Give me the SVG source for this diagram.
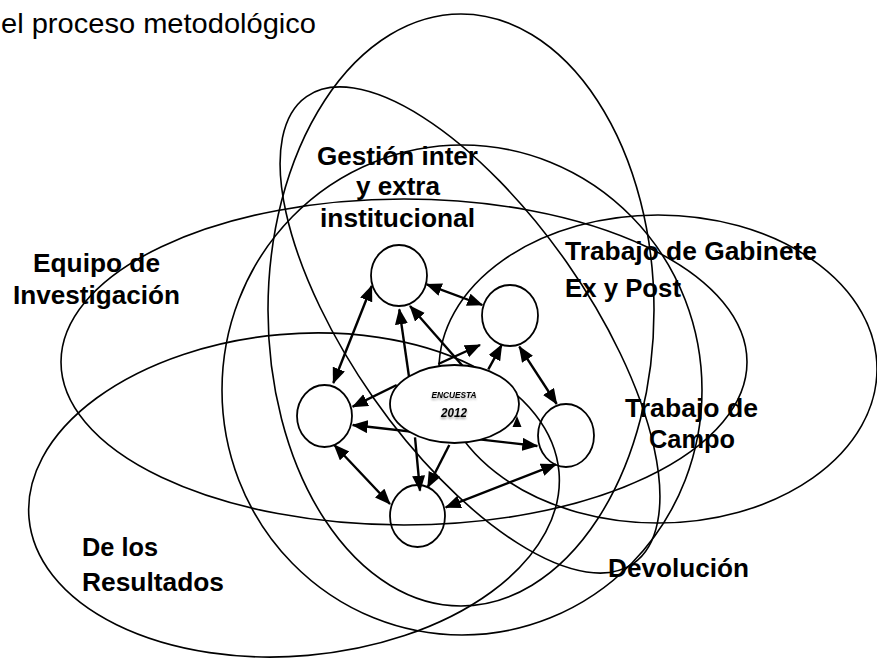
<svg xmlns="http://www.w3.org/2000/svg" width="877" height="658" viewBox="0 0 877 658">
<style>
.ring{fill:none;stroke:#000;stroke-width:1.6}
.node{fill:none;stroke:#000;stroke-width:1.8}
.arr{stroke:#000;stroke-width:2.4;fill:none}
.one{marker-end:url(#ah)}
.two{marker-start:url(#ah);marker-end:url(#ah)}
.lbl{font-family:"Liberation Sans",Arial,sans-serif;font-weight:bold;font-size:25px;fill:#000}
.head{font-family:"Liberation Sans",Arial,sans-serif;font-size:28px;fill:#000}
.enc{font-family:"Liberation Sans",Arial,sans-serif;font-weight:bold;font-style:italic;fill:#000;text-anchor:middle}
</style>
<defs>
<marker id="ah" markerUnits="userSpaceOnUse" markerWidth="17" markerHeight="14" refX="15" refY="6.5" orient="auto-start-reverse" viewBox="0 0 17 14">
<path d="M0,0 L16,6.5 L0,13 z" fill="#000"/>
</marker>
<filter id="sh" x="-20%" y="-50%" width="140%" height="220%">
<feDropShadow dx="0" dy="2" stdDeviation="1" flood-color="#000" flood-opacity="0.35"/>
</filter>
</defs>
<rect width="877" height="658" fill="#fff"/>
<text class="head" x="1" y="33" textLength="315" lengthAdjust="spacingAndGlyphs">el proceso metodológico</text>

<g id="rings">
<ellipse id="equipo" class="ring" cx="404" cy="362" rx="343" ry="163"/>
<ellipse id="gabinete" class="ring" cx="658" cy="369" rx="219" ry="154"/>
<ellipse id="resultados" class="ring" cx="294" cy="495" rx="266" ry="161" transform="rotate(-5 294 495)"/>
<ellipse id="outer" class="ring" cx="461" cy="310" rx="193" ry="296"/>
<ellipse id="gestion" class="ring" cx="462" cy="390" rx="240" ry="245"/>
<ellipse id="devolucion" class="ring" cx="470" cy="330" rx="285" ry="118" transform="rotate(55 470 330)"/>
</g>

<g id="connectors">
<line class="arr two" x1="371.7" y1="286" x2="333.3" y2="383"/>
<line class="arr two" x1="426.7" y1="284.3" x2="482.3" y2="305"/>
<line class="arr two" x1="519.3" y1="346.7" x2="556.7" y2="404"/>
<line class="arr two" x1="334.3" y1="445" x2="390" y2="504"/>
<line class="arr two" x1="445.7" y1="507.3" x2="556" y2="464.3"/>
<line class="arr one" x1="409" y1="376.7" x2="399.3" y2="309.3"/>
<line class="arr one" x1="462.7" y1="366" x2="410" y2="306"/>
<line class="arr one" x1="488.3" y1="369.3" x2="501.7" y2="345"/>
<line class="arr one" x1="438.3" y1="364" x2="480" y2="345"/>
<line class="arr one" x1="396.7" y1="385" x2="352.7" y2="406.7"/>
<line class="arr two" x1="352.7" y1="425" x2="537.3" y2="446"/>
<line class="arr one" x1="415" y1="437.3" x2="420" y2="490.7"/>
<line class="arr one" x1="449.3" y1="445" x2="427.7" y2="487.3"/>
<polygon points="512.5,427 517,416 521.5,427" fill="#000"/>
</g>

<g id="n-tl"><ellipse class="node" cx="399" cy="275.5" rx="28" ry="30.5"/></g>
<g id="n-tr"><ellipse class="node" cx="510" cy="315.5" rx="28" ry="30.5"/></g>
<g id="n-l"><ellipse class="node" cx="324.5" cy="416" rx="27.5" ry="31"/></g>
<g id="n-r"><ellipse class="node" cx="566" cy="435.5" rx="28" ry="31.5"/></g>
<g id="n-b"><ellipse class="node" cx="417.5" cy="516" rx="27.5" ry="31"/></g>
<g id="encuesta">
<ellipse cx="454.5" cy="404" rx="64.5" ry="39" fill="#fff" stroke="#000" stroke-width="1.8"/>
<text class="enc" x="454" y="398" font-size="9.5" textLength="45" lengthAdjust="spacingAndGlyphs" filter="url(#sh)">ENCUESTA</text>
<text class="enc" x="454" y="417" font-size="12.5" textLength="26" lengthAdjust="spacingAndGlyphs" filter="url(#sh)">2012</text>
</g>

<g id="labels">
<text class="lbl" x="317" y="165" textLength="161" lengthAdjust="spacingAndGlyphs">Gestión inter</text>
<text class="lbl" x="356" y="195" textLength="84" lengthAdjust="spacingAndGlyphs">y extra</text>
<text class="lbl" x="320" y="227" textLength="155" lengthAdjust="spacingAndGlyphs">institucional</text>
<text class="lbl" x="33" y="272" textLength="127" lengthAdjust="spacingAndGlyphs">Equipo de</text>
<text class="lbl" x="13" y="304" textLength="167" lengthAdjust="spacingAndGlyphs">Investigación</text>
<text class="lbl" x="565" y="260" textLength="252" lengthAdjust="spacingAndGlyphs">Trabajo de Gabinete</text>
<text class="lbl" x="565" y="297" textLength="116" lengthAdjust="spacingAndGlyphs">Ex y Post</text>
<text class="lbl" x="625" y="417" textLength="133" lengthAdjust="spacingAndGlyphs">Trabajo de</text>
<text class="lbl" x="649" y="448" textLength="86" lengthAdjust="spacingAndGlyphs">Campo</text>
<text class="lbl" x="82" y="556" textLength="76" lengthAdjust="spacingAndGlyphs">De los</text>
<text class="lbl" x="82" y="591" textLength="142" lengthAdjust="spacingAndGlyphs">Resultados</text>
<text class="lbl" x="608" y="577" textLength="141" lengthAdjust="spacingAndGlyphs">Devolución</text>
</g>
</svg>
